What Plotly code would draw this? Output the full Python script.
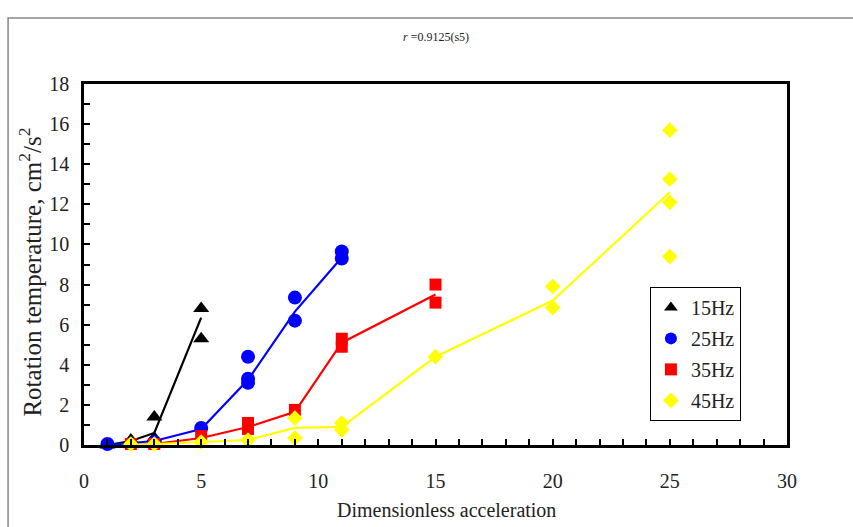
import plotly.graph_objects as go

# Measured points (dimensionless acceleration vs rotation temperature)
x_15 = [1, 2, 3, 3, 5, 5]
y_15 = [0.0, 0.25, 1.4, 0.35, 6.8, 5.3]
x_25 = [1, 3, 5, 7, 7, 7, 9, 9, 11, 11]
y_25 = [0.05, 0.15, 0.85, 4.4, 3.3, 3.1, 7.35, 6.2, 9.65, 9.3]
x_35 = [2, 3, 5, 7, 7, 9, 11, 11, 15, 15]
y_35 = [0.05, 0.05, 0.45, 1.1, 0.8, 1.75, 5.3, 4.9, 8.0, 7.1]
x_45 = [2, 3, 5, 7, 9, 9, 11, 11, 15, 20, 20, 25, 25, 25, 25]
y_45 = [0.05, 0.05, 0.15, 0.25, 1.35, 0.35, 1.1, 0.75, 4.4, 7.9, 6.85, 15.7, 13.25, 12.1, 9.4]

# Mean curves for each frequency
xm_15 = [1, 2, 3, 5]
ym_15 = [0.0, 0.2, 0.6, 6.35]
xm_25 = [1, 3, 5, 7, 9, 11]
ym_25 = [0.0, 0.2, 0.8, 3.25, 6.65, 9.35]
xm_35 = [2, 3, 5, 7, 9, 11, 15]
ym_35 = [0.0, 0.05, 0.35, 0.9, 1.65, 5.1, 7.5]
xm_45 = [2, 3, 5, 7, 9, 11, 15, 20, 25]
ym_45 = [0.0, 0.05, 0.15, 0.25, 0.85, 0.9, 4.4, 7.2, 12.6]

series = [
    ("15Hz", x_15, y_15, xm_15, ym_15, "#000000", "triangle-up", 14),
    ("25Hz", x_25, y_25, xm_25, ym_25, "#0000FF", "circle", 14),
    ("35Hz", x_35, y_35, xm_35, ym_35, "#FF0000", "square", 12),
    ("45Hz", x_45, y_45, xm_45, ym_45, "#FFFF00", "diamond", 12),
]

FONT = "Liberation Serif"
TEXT = "#222222"

fig = go.Figure()
for name, xs, ys, xm, ym, color, symbol, size in series:
    fig.add_trace(go.Scatter(
        x=xm, y=ym, mode="lines", line=dict(color=color, width=2.2),
        showlegend=False, hoverinfo="skip", cliponaxis=False,
    ))
for name, xs, ys, xm, ym, color, symbol, size in series:
    fig.add_trace(go.Scatter(
        x=xs, y=ys, mode="markers", name=name, legendgroup=name,
        marker=dict(color=color, symbol=symbol, size=size, line=dict(width=0)),
        cliponaxis=False,
    ))

axis_common = dict(
    showline=True, linecolor="black", linewidth=2.5, mirror=True,
    ticks="inside", ticklen=6, tickwidth=2, tickcolor="black",
    showgrid=False, zeroline=False, automargin=False,
    tickfont=dict(family=FONT, size=20, color=TEXT),
)
minor_ticks = dict(dtick=1, ticks="inside", ticklen=6, tickwidth=2, tickcolor="black")

fig.update_layout(
    width=853, height=527,
    margin=dict(l=84, r=66, t=84, b=82),
    paper_bgcolor="white", plot_bgcolor="white",
    font=dict(family=FONT, color=TEXT),
    xaxis=dict(range=[0, 30], dtick=5, tick0=0, minor=minor_ticks,
               ticklabelstandoff=16, **axis_common),
    yaxis=dict(range=[0, 18], dtick=2, tick0=0, minor=minor_ticks,
               ticklabelstandoff=8, **axis_common),
    legend=dict(
        x=0.805, y=0.438, xanchor="left", yanchor="top",
        bordercolor="black", borderwidth=1, bgcolor="white",
        font=dict(family=FONT, size=20, color=TEXT),
        traceorder="grouped", tracegroupgap=2, itemsizing="constant",
        itemwidth=30,
    ),
    showlegend=True,
    annotations=[
        dict(text="<i>r</i> =0.9125(s5)", xref="paper", yref="paper",
             x=0.5, y=1.13, xanchor="center", yanchor="middle", showarrow=False,
             font=dict(family=FONT, size=12, color=TEXT)),
        dict(text="Dimensionless acceleration", xref="paper", yref="paper",
             x=0.515, y=-0.18, xanchor="center", yanchor="middle", showarrow=False,
             font=dict(family=FONT, size=20, color=TEXT)),
        dict(text="Rotation temperature, cm<sup>2</sup>/s<sup>2</sup>",
             xref="paper", yref="paper", x=-0.077, y=0.48, textangle=-90,
             xanchor="center", yanchor="middle", showarrow=False,
             font=dict(family=FONT, size=25, color=TEXT)),
    ],
    shapes=[dict(
        type="rect", xref="paper", yref="paper",
        x0=-0.108, x1=1.2, y0=-0.4, y1=1.183,
        line=dict(color="#888888", width=1.5), layer="below",
    )],
)

fig.write_html("out.html")
